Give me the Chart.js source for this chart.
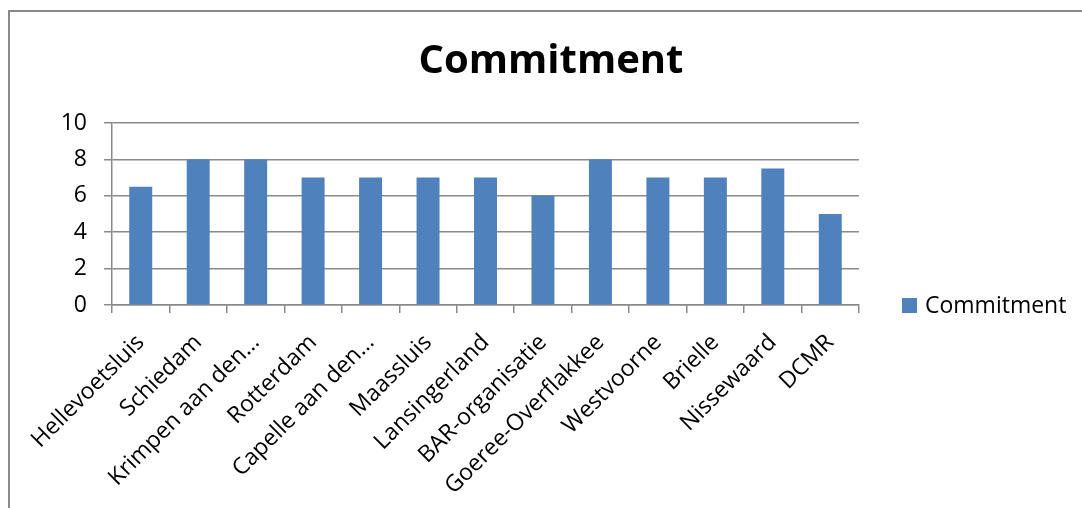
<!DOCTYPE html>
<html>
<head>
<meta charset="utf-8">
<script src="https://cdn.jsdelivr.net/npm/chart.js@4/dist/chart.umd.min.js"></script>
<style>
  html, body { margin: 0; padding: 0; background: #fff; overflow: hidden; }
  #frame {
    position: absolute; left: 8px; top: 10px; width: 1200px; height: 600px;
    border-left: 2px solid #8a8a8a; border-top: 2px solid #8a8a8a;
  }
  #wrap { position: absolute; left: 0; top: 0; width: 1082px; height: 508px; }
</style>
</head>
<body>
<div id="frame"></div>
<div id="wrap"><canvas id="commitmentChart" width="1082" height="508"></canvas></div>
<script>
const categories = [
  "Hellevoetsluis", "Schiedam", "Krimpen aan den\u2026", "Rotterdam",
  "Capelle aan den\u2026", "Maassluis", "Lansingerland", "BAR-organisatie",
  "Goeree-Overflakkee", "Westvoorne", "Brielle", "Nissewaard", "DCMR"
];
const commitment = [6.5, 8, 8, 7, 7, 7, 7, 6, 8, 7, 7, 7.5, 5];
const yTicks = [0, 2, 4, 6, 8, 10];

const FONT = "'Open Sans', 'Liberation Sans', sans-serif";
const GRID = "#8a8a8a";
const BAR = "#4f81bd";

// legend drawn beside the plot, level with the x axis like the original
const sideLegend = {
  id: "sideLegend",
  afterDraw(chart) {
    const { ctx, chartArea } = chart;
    const ds = chart.data.datasets[0];
    const x = chartArea.right + 43;
    const y = chartArea.bottom;
    ctx.save();
    ctx.fillStyle = ds.backgroundColor;
    ctx.fillRect(x, y - 7, 15, 15);
    ctx.fillStyle = "#000";
    ctx.font = "23px " + FONT;
    ctx.textBaseline = "middle";
    ctx.fillText(ds.label, x + 23, y + 1);
    ctx.restore();
  }
};

new Chart(document.getElementById("commitmentChart"), {
  type: "bar",
  data: {
    labels: categories,
    datasets: [
      {
        label: "Commitment",
        data: commitment,
        backgroundColor: BAR,
        borderWidth: 0,
        categoryPercentage: 1,
        barPercentage: 0.4
      }
    ]
  },
  plugins: [sideLegend],
  options: {
    responsive: false,
    animation: false,
    layout: { padding: { left: 20, right: 0, top: 0, bottom: 0 } },
    plugins: {
      legend: { display: false },
      tooltip: { enabled: false },
      title: {
        display: true,
        text: "Commitment",
        color: "#000",
        font: { family: FONT, size: 40, weight: "bold" },
        padding: { top: 38, bottom: 37 }
      }
    },
    scales: {
      x: {
        offset: true,
        grid: {
          offset: true,
          drawOnChartArea: false,
          color: GRID,
          lineWidth: 1.5,
          tickLength: 8
        },
        border: { color: GRID, width: 1.5 },
        ticks: {
          autoSkip: false,
          maxRotation: 45,
          minRotation: 45,
          padding: 16,
          color: "#000",
          font: { family: FONT, size: 23 }
        },
        afterFit(scale) { scale.height = 203; }
      },
      y: {
        min: 0,
        max: 10,
        afterBuildTicks(scale) { scale.ticks = yTicks.map((v) => ({ value: v })); },
        grid: { color: GRID, lineWidth: 1.5, tickLength: 8 },
        border: { color: GRID, width: 1.5 },
        ticks: {
          padding: 17,
          color: "#000",
          font: { family: FONT, size: 23 }
        },
        afterFit(scale) { scale.width = 92; }
      },
      // empty right-hand axis that only keeps room for the legend
      legendSpace: {
        type: "linear",
        position: "right",
        display: true,
        grid: { display: false, drawOnChartArea: false },
        border: { display: false },
        ticks: { display: false },
        afterFit(scale) { scale.width = 223; }
      }
    }
  }
});
</script>
</body>
</html>
